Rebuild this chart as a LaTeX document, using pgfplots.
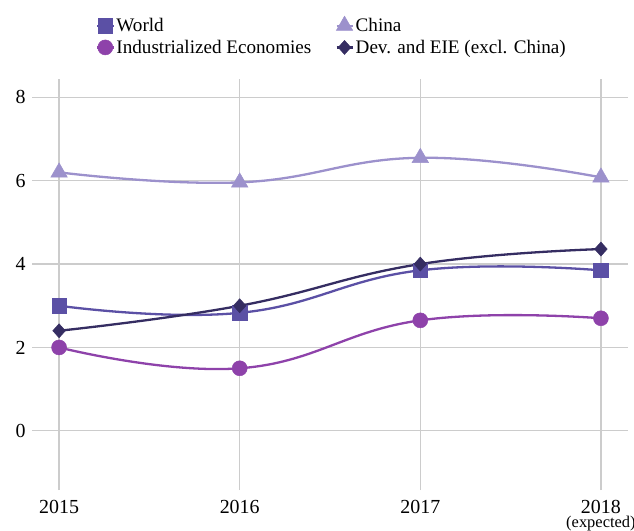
\documentclass[border=0pt]{standalone}
\usepackage{pgfplots}
\pgfplotsset{compat=1.18}
\usepackage{fontspec}
\setmainfont{Liberation Serif}
\definecolor{cworld}{RGB}{91,80,165}
\definecolor{cchina}{RGB}{156,145,204}
\definecolor{cind}{RGB}{142,66,170}
\definecolor{cdev}{RGB}{53,45,98}
\definecolor{cgrid}{RGB}{204,204,204}
\begin{document}
\begin{tikzpicture}
\begin{axis}[
  name=ax,
  scale only axis, width=596bp, height=411bp,
  xmin=2014.85, xmax=2018.15, ymin=-1.42, ymax=8.44,
  axis line style={draw=none},
  major tick length=0pt,
  grid=major,
  grid style={cgrid, line width=1.3bp},
  xtick={2015,2016,2017,2018},
  xticklabels={2015,2016,2017,{2018\\[-8bp]{\fontsize{16.5}{16.5}\selectfont(expected)}}},
  x tick label style={align=center, anchor=north, yshift=-7bp},
  y tick label style={xshift=-3bp},
  ytick={0,2,4,6,8},
  /pgf/number format/assume math mode=true,
  /pgf/number format/1000 sep={},
  tick label style={font=\fontsize{20}{22}\selectfont},
  legend columns=2,
  legend cell align=left,
  legend style={at={(0.5,1)}, anchor=south, yshift=20bp, xshift=2bp, draw=none, fill=none,
    font=\fontsize{19.2}{21}\selectfont, row sep=3bp,
    /tikz/every even column/.append style={column sep=22bp}},
  legend image code/.code={\draw[mark repeat=2,mark phase=2,#1] plot coordinates {(0bp,0bp) (8bp,0bp) (16bp,0bp)};},
  every axis plot/.append style={line width=2.3bp, smooth, tension=0.75},
]
\addplot[cworld, mark=square*, mark size=7.2bp, mark options={line width=0.5bp}] coordinates {
  (2015,3.0) (2016,2.83) (2017,3.85) (2018,3.85)};
\addlegendentry{World}
\addplot[cchina, mark=triangle*, mark size=9.5bp, mark options={line width=0.5bp}] coordinates {
  (2015,6.2) (2016,5.96) (2017,6.55) (2018,6.08)};
\addlegendentry{China}
\addplot[cind, mark=*, mark size=7.5bp, mark options={line width=0.5bp}] coordinates {
  (2015,2.0) (2016,1.5) (2017,2.65) (2018,2.7)};
\addlegendentry{Industrialized Economies}
\addplot[cdev, mark=diamond*, mark size=7bp, mark options={line width=0.5bp, xscale=1.2}] coordinates {
  (2015,2.4) (2016,3.0) (2017,4.0) (2018,4.36)};
\addlegendentry{Dev. and EIE (excl. China)}
\end{axis}
\pgfresetboundingbox
\useasboundingbox ([xshift=-32bp,yshift=-41bp]ax.south west) rectangle ([xshift=6bp,yshift=79bp]ax.north east);
\end{tikzpicture}
\end{document}
